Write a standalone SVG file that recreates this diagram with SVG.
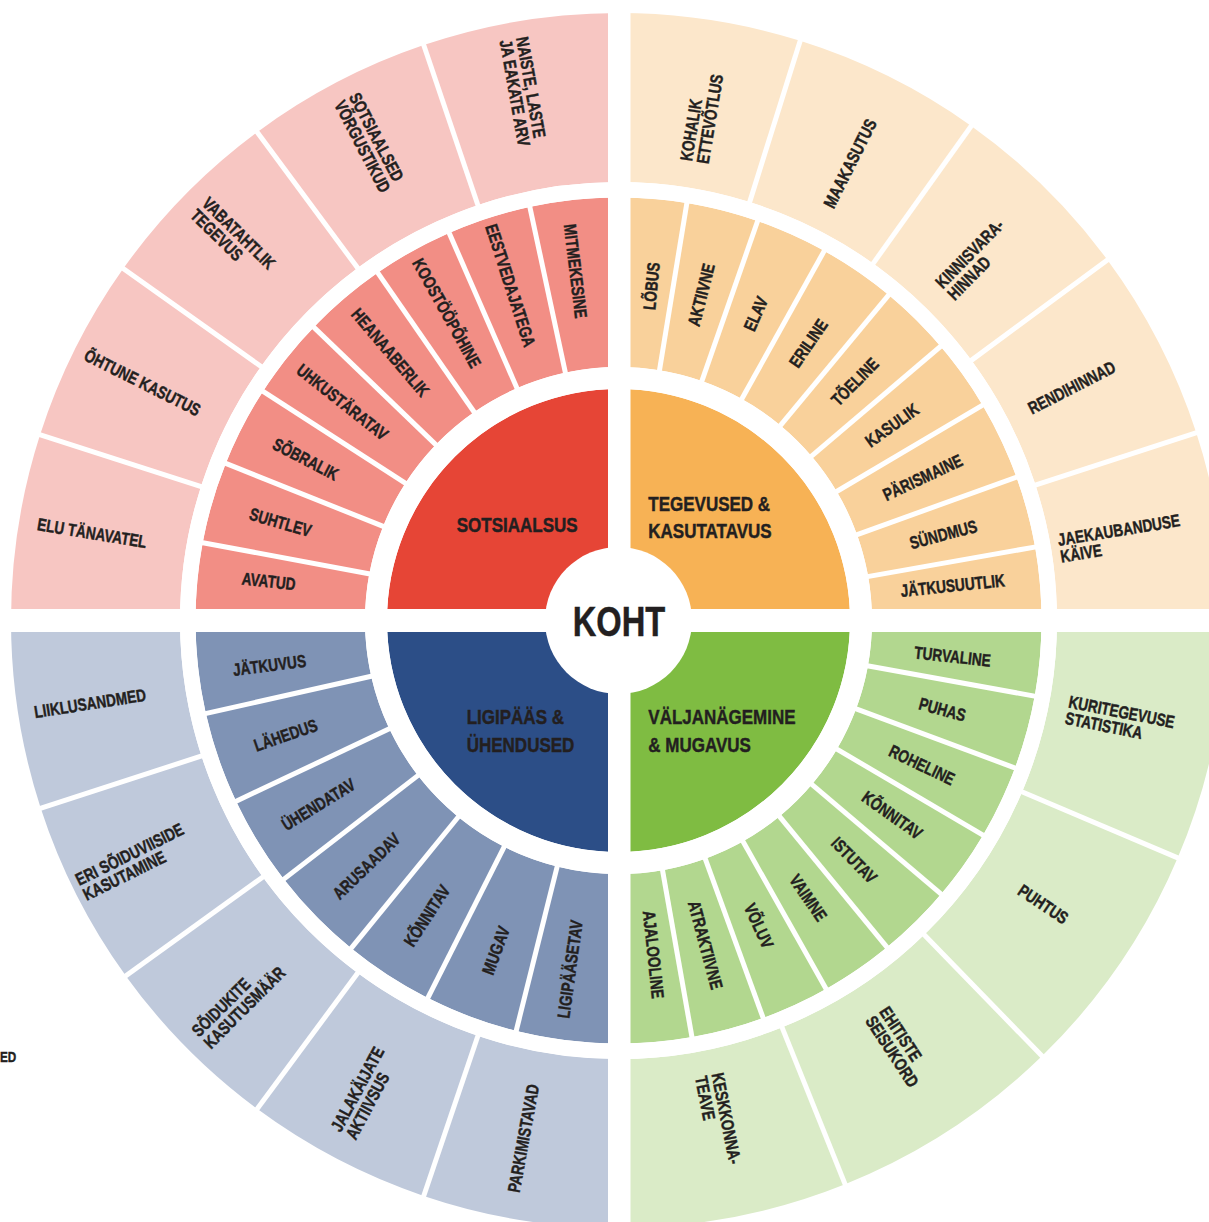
<svg xmlns="http://www.w3.org/2000/svg" width="1209" height="1222" viewBox="0 0 1209 1222">
<style>
.m{fill:none;stroke-width:169.5}
.o{fill:none;stroke-width:169}
.rD{fill:#E64536}.oD{fill:#F7B255}.gD{fill:#7FBC42}.bD{fill:#2C4E87}
.rM{stroke:#F28E85}.oM{stroke:#F9D19B}.gM{stroke:#B2D78F}.bM{stroke:#7F93B5}
.rL{stroke:#F7C6C2}.oL{stroke:#FCE7CB}.gL{stroke:#DAEBC7}.bL{stroke:#BFC9DB}
.t{font-family:"Liberation Sans",Arial,sans-serif;font-weight:700;font-size:17.5px;fill:#231F20;stroke:#231F20;stroke-width:0.45}
.c{text-anchor:middle}
.h{font-size:21px}
.sep line{stroke:#fff;stroke-width:5}
</style>
<rect width="1209" height="1222" fill="#fff"/>

<!-- inner quadrants -->
<g id="sotsiaalsus"><path class="rD" d="M618.5 620.5 L387 620.5 A231.5 231.5 0 0 1 618.5 389 Z"/><text class="t h" transform="translate(456.7 531.5) scale(0.81 1)">SOTSIAALSUS</text></g>
<g id="tegevused"><path class="oD" d="M618.5 620.5 L618.5 389 A231.5 231.5 0 0 1 850 620.5 Z"/><text class="t h" transform="translate(648.3 0) scale(0.81 1)"><tspan x="0" y="511.5">TEGEVUSED &amp;</tspan><tspan x="0" y="538.3">KASUTATAVUS</tspan></text></g>
<g id="valjanagemine"><path class="gD" d="M618.5 620.5 L850 620.5 A231.5 231.5 0 0 1 618.5 852 Z"/><text class="t h" transform="translate(648.3 0) scale(0.81 1)"><tspan x="0" y="724">VÄLJANÄGEMINE</tspan><tspan x="0" y="752">&amp; MUGAVUS</tspan></text></g>
<g id="ligipaas"><path class="bD" d="M618.5 620.5 L618.5 852 A231.5 231.5 0 0 1 387 620.5 Z"/><text class="t h" transform="translate(466.7 0) scale(0.81 1)"><tspan x="0" y="724">LIGIPÄÄS &amp;</tspan><tspan x="0" y="751.7">ÜHENDUSED</tspan></text></g>

<!-- red middle -->
<g id="avatud"><circle class="m rM" cx="618.5" cy="620.5" r="338.25" stroke-dasharray="62.58 3000" transform="rotate(180 618.5 620.5)"/><text class="t c" y="6.2" transform="translate(268.7 581.3) rotate(6.4) scale(0.78 1)">AVATUD</text></g>
<g id="suhtlev"><circle class="m rM" cx="618.5" cy="620.5" r="338.25" stroke-dasharray="66.12 3000" transform="rotate(190.6 618.5 620.5)"/><text class="t c" y="6.2" transform="translate(280.5 522.3) rotate(16.2) scale(0.78 1)">SUHTLEV</text></g>
<g id="sobralik"><circle class="m rM" cx="618.5" cy="620.5" r="338.25" stroke-dasharray="64.94 3000" transform="rotate(201.8 618.5 620.5)"/><text class="t c" y="6.2" transform="translate(305.7 459.1) rotate(27.3) scale(0.78 1)">SÕBRALIK</text></g>
<g id="uhkustaratav"><circle class="m rM" cx="618.5" cy="620.5" r="338.25" stroke-dasharray="65.53 3000" transform="rotate(212.8 618.5 620.5)"/><text class="t c" y="6.2" transform="translate(342.5 402) rotate(38.35) scale(0.78 1)">UHKUSTÄRATAV</text></g>
<g id="heanaaberlik"><circle class="m rM" cx="618.5" cy="620.5" r="338.25" stroke-dasharray="67.30 3000" transform="rotate(223.9 618.5 620.5)"/><text class="t c" y="6.2" transform="translate(390.4 352.4) rotate(49.6) scale(0.78 1)">HEANAABERLIK</text></g>
<g id="koostoopohine"><circle class="m rM" cx="618.5" cy="620.5" r="338.25" stroke-dasharray="65.53 3000" transform="rotate(235.3 618.5 620.5)"/><text class="t c" y="6.2" transform="translate(447 313.1) rotate(60.85) scale(0.78 1)">KOOSTÖÖPÕHINE</text></g>
<g id="eestvedajatega"><circle class="m rM" cx="618.5" cy="620.5" r="338.25" stroke-dasharray="67.89 3000" transform="rotate(246.4 618.5 620.5)"/><text class="t c" y="6.2" transform="translate(510.6 285.4) rotate(72.15) scale(0.78 1)">EESTVEDAJATEGA</text></g>
<g id="mitmekesine"><circle class="m rM" cx="618.5" cy="620.5" r="338.25" stroke-dasharray="71.43 3000" transform="rotate(257.9 618.5 620.5)"/><text class="t c" y="6.2" transform="translate(575.6 271.1) rotate(83) scale(0.78 1)">MITMEKESINE</text></g>

<!-- orange middle -->
<g id="lobus"><circle class="m oM" cx="618.5" cy="620.5" r="338.25" stroke-dasharray="54.90 3000" transform="rotate(270 618.5 620.5)"/><text class="t c" y="6.2" transform="translate(651.3 286.1) rotate(-84.4) scale(0.78 1)">LÕBUS</text></g>
<g id="aktiivne"><circle class="m oM" cx="618.5" cy="620.5" r="338.25" stroke-dasharray="58.44 3000" transform="rotate(279.3 618.5 620.5)"/><text class="t c" y="6.2" transform="translate(701.2 294.8) rotate(-75.75) scale(0.78 1)">AKTIIVNE</text></g>
<g id="elav"><circle class="m oM" cx="618.5" cy="620.5" r="338.25" stroke-dasharray="58.44 3000" transform="rotate(289.2 618.5 620.5)"/><text class="t c" y="6.2" transform="translate(755.7 313.8) rotate(-65.9) scale(0.78 1)">ELAV</text></g>
<g id="eriline"><circle class="m oM" cx="618.5" cy="620.5" r="338.25" stroke-dasharray="62.58 3000" transform="rotate(299.1 618.5 620.5)"/><text class="t c" y="6.2" transform="translate(808.3 343.3) rotate(-55.6) scale(0.78 1)">ERILINE</text></g>
<g id="toeline"><circle class="m oM" cx="618.5" cy="620.5" r="338.25" stroke-dasharray="58.44 3000" transform="rotate(309.7 618.5 620.5)"/><text class="t c" y="6.2" transform="translate(854.8 381.7) rotate(-45.3) scale(0.78 1)">TÕELINE</text></g>
<g id="kasulik"><circle class="m oM" cx="618.5" cy="620.5" r="338.25" stroke-dasharray="57.85 3000" transform="rotate(319.6 618.5 620.5)"/><text class="t c" y="6.2" transform="translate(891.9 425.2) rotate(-35.55) scale(0.78 1)">KASULIK</text></g>
<g id="parismaine"><circle class="m oM" cx="618.5" cy="620.5" r="338.25" stroke-dasharray="63.76 3000" transform="rotate(329.4 618.5 620.5)"/><text class="t c" y="6.2" transform="translate(922.5 477.4) rotate(-25.2) scale(0.78 1)">PÄRISMAINE</text></g>
<g id="sundmus"><circle class="m oM" cx="618.5" cy="620.5" r="338.25" stroke-dasharray="57.85 3000" transform="rotate(340.2 618.5 620.5)"/><text class="t c" y="6.2" transform="translate(943.3 534.4) rotate(-14.85) scale(0.78 1)">SÜNDMUS</text></g>
<g id="jatkusuutlik"><circle class="m oM" cx="618.5" cy="620.5" r="338.25" stroke-dasharray="59.04 3000" transform="rotate(350 618.5 620.5)"/><text class="t c" y="6.2" transform="translate(952.7 585.4) rotate(-6) scale(0.78 1)">JÄTKUSUUTLIK</text></g>

<!-- green middle -->
<g id="turvaline"><circle class="m gM" cx="618.5" cy="620.5" r="338.25" stroke-dasharray="60.81 3000"/><text class="t c" y="6.2" transform="translate(952.6 656.4) rotate(6.13) scale(0.78 1)">TURVALINE</text></g>
<g id="puhas"><circle class="m gM" cx="618.5" cy="620.5" r="338.25" stroke-dasharray="59.63 3000" transform="rotate(10.3 618.5 620.5)"/><text class="t c" y="6.2" transform="translate(942.5 709.4) rotate(15.35) scale(0.78 1)">PUHAS</text></g>
<g id="roheline"><circle class="m gM" cx="618.5" cy="620.5" r="338.25" stroke-dasharray="59.63 3000" transform="rotate(20.4 618.5 620.5)"/><text class="t c" y="6.2" transform="translate(921.9 764.9) rotate(25.45) scale(0.78 1)">ROHELINE</text></g>
<g id="konnitav-g"><circle class="m gM" cx="618.5" cy="620.5" r="338.25" stroke-dasharray="57.85 3000" transform="rotate(30.5 618.5 620.5)"/><text class="t c" y="6.2" transform="translate(892.4 815.1) rotate(35.4) scale(0.78 1)">KÕNNITAV</text></g>
<g id="istutav"><circle class="m gM" cx="618.5" cy="620.5" r="338.25" stroke-dasharray="60.81 3000" transform="rotate(40.3 618.5 620.5)"/><text class="t c" y="6.2" transform="translate(854.2 860) rotate(45.45) scale(0.78 1)">ISTUTAV</text></g>
<g id="vaimne"><circle class="m gM" cx="618.5" cy="620.5" r="338.25" stroke-dasharray="59.04 3000" transform="rotate(50.6 618.5 620.5)"/><text class="t c" y="6.2" transform="translate(808.3 897.7) rotate(55.6) scale(0.78 1)">VAIMNE</text></g>
<g id="voluv"><circle class="m gM" cx="618.5" cy="620.5" r="338.25" stroke-dasharray="55.49 3000" transform="rotate(60.6 618.5 620.5)"/><text class="t c" y="6.2" transform="translate(758.9 925.8) rotate(65.3) scale(0.78 1)">VÕLUV</text></g>
<g id="atraktiivne"><circle class="m gM" cx="618.5" cy="620.5" r="338.25" stroke-dasharray="59.04 3000" transform="rotate(70 618.5 620.5)"/><text class="t c" y="6.2" transform="translate(705.5 945) rotate(75) scale(0.78 1)">ATRAKTIIVNE</text></g>
<g id="ajalooline"><circle class="m gM" cx="618.5" cy="620.5" r="338.25" stroke-dasharray="59.04 3000" transform="rotate(80 618.5 620.5)"/><text class="t c" y="6.2" transform="translate(653.6 954.7) rotate(84) scale(0.78 1)">AJALOOLINE</text></g>

<!-- blue middle -->
<g id="ligipaasetav"><circle class="m bM" cx="618.5" cy="620.5" r="338.25" stroke-dasharray="82.65 3000" transform="rotate(90 618.5 620.5)"/><text class="t c" y="6.2" transform="translate(569.9 969.1) rotate(-82.06) scale(0.78 1)">LIGIPÄÄSETAV</text></g>
<g id="mugav"><circle class="m bM" cx="618.5" cy="620.5" r="338.25" stroke-dasharray="75.56 3000" transform="rotate(104 618.5 620.5)"/><text class="t c" y="6.2" transform="translate(495.8 950.4) rotate(-69.6) scale(0.78 1)">MUGAV</text></g>
<g id="konnitav-b"><circle class="m bM" cx="618.5" cy="620.5" r="338.25" stroke-dasharray="73.20 3000" transform="rotate(116.8 618.5 620.5)"/><text class="t c" y="6.2" transform="translate(426.8 915.7) rotate(-57) scale(0.78 1)">KÕNNITAV</text></g>
<g id="arusaadav"><circle class="m bM" cx="618.5" cy="620.5" r="338.25" stroke-dasharray="77.34 3000" transform="rotate(129.2 618.5 620.5)"/><text class="t c" y="6.2" transform="translate(366.4 866.1) rotate(-44.25) scale(0.78 1)">ARUSAADAV</text></g>
<g id="uhendatav"><circle class="m bM" cx="618.5" cy="620.5" r="338.25" stroke-dasharray="73.20 3000" transform="rotate(142.3 618.5 620.5)"/><text class="t c" y="6.2" transform="translate(318.4 804.4) rotate(-31.5) scale(0.78 1)">ÜHENDATAV</text></g>
<g id="lahedus"><circle class="m bM" cx="618.5" cy="620.5" r="338.25" stroke-dasharray="74.38 3000" transform="rotate(154.7 618.5 620.5)"/><text class="t c" y="6.2" transform="translate(285.7 735.1) rotate(-19) scale(0.78 1)">LÄHEDUS</text></g>
<g id="jatkuvus"><circle class="m bM" cx="618.5" cy="620.5" r="338.25" stroke-dasharray="74.97 3000" transform="rotate(167.3 618.5 620.5)"/><text class="t c" y="6.2" transform="translate(269.4 665.2) rotate(-7.3) scale(0.78 1)">JÄTKUVUS</text></g>

<!-- red outer -->
<g id="elu-tanavatel"><circle class="o rL" cx="618.5" cy="620.5" r="523" stroke-dasharray="162.48 4000" transform="rotate(180 618.5 620.5)"/><text class="t c" y="6.2" transform="translate(92 533) rotate(9.4) scale(0.78 1)">ELU TÄNAVATEL</text></g>
<g id="ohtune-kasutus"><circle class="o rL" cx="618.5" cy="620.5" r="523" stroke-dasharray="160.65 4000" transform="rotate(197.8 618.5 620.5)"/><text class="t c" y="6.2" transform="translate(142.5 382.5) rotate(26.6) scale(0.78 1)">ÕHTUNE KASUTUS</text></g>
<g id="vabatahtlik"><circle class="o rL" cx="618.5" cy="620.5" r="523" stroke-dasharray="165.22 4000" transform="rotate(215.4 618.5 620.5)"/><text class="t" transform="translate(234 240) rotate(44.5) scale(0.78 1)"><tspan x="-62.2" y="-2.2">VABATAHTLIK</tspan><tspan x="-62.2" y="14.6">TEGEVUS</tspan></text></g>
<g id="sotsiaalsed"><circle class="o rL" cx="618.5" cy="620.5" r="523" stroke-dasharray="162.48 4000" transform="rotate(233.5 618.5 620.5)"/><text class="t" transform="translate(370 142.5) rotate(62.4) scale(0.78 1)"><tspan x="-64.7" y="-2.2">SOTSIAALSED</tspan><tspan x="-64.7" y="14.6">VÕRGUSTIKUD</tspan></text></g>
<g id="naiste"><circle class="o rL" cx="618.5" cy="620.5" r="523" stroke-dasharray="170.70 4000" transform="rotate(251.3 618.5 620.5)"/><text class="t" transform="translate(523.5 92.5) rotate(80) scale(0.78 1)"><tspan x="-70.5" y="-2.2">NAISTE, LASTE</tspan><tspan x="-70.5" y="14.6">JA EAKATE ARV</tspan></text></g>

<!-- orange outer -->
<g id="kohalik"><circle class="o oL" cx="618.5" cy="620.5" r="523" stroke-dasharray="158.83 4000" transform="rotate(270 618.5 620.5)"/><text class="t" transform="translate(701.5 117.5) rotate(-80.6) scale(0.78 1)"><tspan x="-57.9" y="-2.2">KOHALIK</tspan><tspan x="-57.9" y="14.6">ETTEVÕTLUS</tspan></text></g>
<g id="maakasutus"><circle class="o oL" cx="618.5" cy="620.5" r="523" stroke-dasharray="165.22 4000" transform="rotate(287.4 618.5 620.5)"/><text class="t c" y="6.2" transform="translate(850 163.3) rotate(-63.3) scale(0.78 1)">MAAKASUTUS</text></g>
<g id="kinnisvara"><circle class="o oL" cx="618.5" cy="620.5" r="523" stroke-dasharray="165.22 4000" transform="rotate(305.5 618.5 620.5)"/><text class="t" transform="translate(975.8 259.2) rotate(-45.4) scale(0.78 1)"><tspan x="-57.4" y="-2.2">KINNISVARA-</tspan><tspan x="-57.4" y="14.6">HINNAD</tspan></text></g>
<g id="rendihinnad"><circle class="o oL" cx="618.5" cy="620.5" r="523" stroke-dasharray="167.96 4000" transform="rotate(323.6 618.5 620.5)"/><text class="t c" y="6.2" transform="translate(1071.7 387.5) rotate(-27.2) scale(0.78 1)">RENDIHINNAD</text></g>
<g id="jaekaubandus"><circle class="o oL" cx="618.5" cy="620.5" r="523" stroke-dasharray="164.31 4000" transform="rotate(342 618.5 620.5)"/><text class="t" transform="translate(1120 538.3) rotate(-9.3) scale(0.78 1)"><tspan x="-79" y="-2.2">JAEKAUBANDUSE</tspan><tspan x="-79" y="14.6">KÄIVE</tspan></text></g>

<!-- green outer -->
<g id="kuritegevus"><circle class="o gL" cx="618.5" cy="620.5" r="523" stroke-dasharray="209.95 4000"/><text class="t" transform="translate(1120 720) rotate(11.2) scale(0.78 1)"><tspan x="-69" y="-2.2">KURITEGEVUSE</tspan><tspan x="-69" y="14.6">STATISTIKA</tspan></text></g>
<g id="puhtus"><circle class="o gL" cx="618.5" cy="620.5" r="523" stroke-dasharray="208.12 4000" transform="rotate(23 618.5 620.5)"/><text class="t c" y="6.2" transform="translate(1043.3 904.2) rotate(33.7) scale(0.78 1)">PUHTUS</text></g>
<g id="ehitiste"><circle class="o gL" cx="618.5" cy="620.5" r="523" stroke-dasharray="203.56 4000" transform="rotate(45.8 618.5 620.5)"/><text class="t" transform="translate(899.2 1046.7) rotate(56.6) scale(0.78 1)"><tspan x="-52" y="-2.2">EHITISTE</tspan><tspan x="-52" y="14.6">SEISUKORD</tspan></text></g>
<g id="keskkonnateave"><circle class="o gL" cx="618.5" cy="620.5" r="523" stroke-dasharray="199.91 4000" transform="rotate(68.1 618.5 620.5)"/><text class="t" transform="translate(718.3 1120) rotate(78.7) scale(0.78 1)"><tspan x="-59.3" y="-2.2">KESKKONNA-</tspan><tspan x="-59.3" y="14.6">TEAVE</tspan></text></g>

<!-- blue outer -->
<g id="parkimistavad"><circle class="o bL" cx="618.5" cy="620.5" r="523" stroke-dasharray="170.70 4000" transform="rotate(90 618.5 620.5)"/><text class="t c" y="6.2" transform="translate(523.3 1138.3) rotate(-79.6) scale(0.78 1)">PARKIMISTAVAD</text></g>
<g id="jalakaijate"><circle class="o bL" cx="618.5" cy="620.5" r="523" stroke-dasharray="162.48 4000" transform="rotate(108.7 618.5 620.5)"/><text class="t" transform="translate(365 1092.5) rotate(-61.8) scale(0.78 1)"><tspan x="-60.3" y="-2.2">JALAKÄIJATE</tspan><tspan x="-60.3" y="14.6">AKTIIVSUS</tspan></text></g>
<g id="soidukite"><circle class="o bL" cx="618.5" cy="620.5" r="523" stroke-dasharray="161.57 4000" transform="rotate(126.5 618.5 620.5)"/><text class="t" transform="translate(238.3 1001.7) rotate(-45) scale(0.78 1)"><tspan x="-68.3" y="-2.2">SÕIDUKITE</tspan><tspan x="-68.3" y="14.6">KASUTUSMÄÄR</tspan></text></g>
<g id="soiduviisid"><circle class="o bL" cx="618.5" cy="620.5" r="523" stroke-dasharray="162.48 4000" transform="rotate(144.2 618.5 620.5)"/><text class="t" transform="translate(133.3 861.7) rotate(-26.4) scale(0.78 1)"><tspan x="-75.9" y="-2.2">ERI SÕIDUVIISIDE</tspan><tspan x="-75.9" y="14.6">KASUTAMINE</tspan></text></g>
<g id="liiklusandmed"><circle class="o bL" cx="618.5" cy="620.5" r="523" stroke-dasharray="164.31 4000" transform="rotate(162 618.5 620.5)"/><text class="t c" y="6.2" transform="translate(90 703.3) rotate(-8.9) scale(0.78 1)">LIIKLUSANDMED</text></g>

<!-- separators -->
<g id="connectors" class="sep" transform="translate(618.5 620.5)">
<g>
<line x1="250" y1="0" x2="427" y2="0" transform="rotate(190.6)"/>
<line x1="250" y1="0" x2="427" y2="0" transform="rotate(201.8)"/>
<line x1="250" y1="0" x2="427" y2="0" transform="rotate(212.8)"/>
<line x1="250" y1="0" x2="427" y2="0" transform="rotate(223.9)"/>
<line x1="250" y1="0" x2="427" y2="0" transform="rotate(235.3)"/>
<line x1="250" y1="0" x2="427" y2="0" transform="rotate(246.4)"/>
<line x1="250" y1="0" x2="427" y2="0" transform="rotate(257.9)"/>
<line x1="250" y1="0" x2="427" y2="0" transform="rotate(279.3)"/>
<line x1="250" y1="0" x2="427" y2="0" transform="rotate(289.2)"/>
<line x1="250" y1="0" x2="427" y2="0" transform="rotate(299.1)"/>
<line x1="250" y1="0" x2="427" y2="0" transform="rotate(309.7)"/>
<line x1="250" y1="0" x2="427" y2="0" transform="rotate(319.6)"/>
<line x1="250" y1="0" x2="427" y2="0" transform="rotate(329.4)"/>
<line x1="250" y1="0" x2="427" y2="0" transform="rotate(340.2)"/>
<line x1="250" y1="0" x2="427" y2="0" transform="rotate(350)"/>
<line x1="250" y1="0" x2="427" y2="0" transform="rotate(10.3)"/>
<line x1="250" y1="0" x2="427" y2="0" transform="rotate(20.4)"/>
<line x1="250" y1="0" x2="427" y2="0" transform="rotate(30.5)"/>
<line x1="250" y1="0" x2="427" y2="0" transform="rotate(40.3)"/>
<line x1="250" y1="0" x2="427" y2="0" transform="rotate(50.6)"/>
<line x1="250" y1="0" x2="427" y2="0" transform="rotate(60.6)"/>
<line x1="250" y1="0" x2="427" y2="0" transform="rotate(70)"/>
<line x1="250" y1="0" x2="427" y2="0" transform="rotate(80)"/>
<line x1="250" y1="0" x2="427" y2="0" transform="rotate(104)"/>
<line x1="250" y1="0" x2="427" y2="0" transform="rotate(116.8)"/>
<line x1="250" y1="0" x2="427" y2="0" transform="rotate(129.2)"/>
<line x1="250" y1="0" x2="427" y2="0" transform="rotate(142.3)"/>
<line x1="250" y1="0" x2="427" y2="0" transform="rotate(154.7)"/>
<line x1="250" y1="0" x2="427" y2="0" transform="rotate(167.3)"/>
</g>
<g>
<line x1="435" y1="0" x2="612" y2="0" transform="rotate(197.8)"/>
<line x1="435" y1="0" x2="612" y2="0" transform="rotate(215.4)"/>
<line x1="435" y1="0" x2="612" y2="0" transform="rotate(233.5)"/>
<line x1="435" y1="0" x2="612" y2="0" transform="rotate(251.3)"/>
<line x1="435" y1="0" x2="612" y2="0" transform="rotate(287.4)"/>
<line x1="435" y1="0" x2="612" y2="0" transform="rotate(305.5)"/>
<line x1="435" y1="0" x2="612" y2="0" transform="rotate(323.6)"/>
<line x1="435" y1="0" x2="612" y2="0" transform="rotate(342)"/>
<line x1="435" y1="0" x2="612" y2="0" transform="rotate(23)"/>
<line x1="435" y1="0" x2="612" y2="0" transform="rotate(45.8)"/>
<line x1="435" y1="0" x2="612" y2="0" transform="rotate(68.1)"/>
<line x1="435" y1="0" x2="612" y2="0" transform="rotate(108.7)"/>
<line x1="435" y1="0" x2="612" y2="0" transform="rotate(126.5)"/>
<line x1="435" y1="0" x2="612" y2="0" transform="rotate(144.2)"/>
<line x1="435" y1="0" x2="612" y2="0" transform="rotate(162)"/>
</g>
</g>

<!-- ring gaps and cross gaps -->
<g id="gaps" fill="none" stroke="#fff">
<circle cx="618.5" cy="620.5" r="242.5" stroke-width="22"/>
<circle cx="618.5" cy="620.5" r="430.75" stroke-width="15.5"/>
</g>
<g id="cross" fill="#fff">
<rect x="608" y="0" width="22.5" height="1222"/>
<rect x="0" y="609" width="1209" height="23"/>
</g>

<g id="koht">
<circle cx="618.5" cy="620.5" r="73.5" fill="#fff"/>
<text class="t c" transform="translate(619 636) scale(0.76 1)" style="font-size:43px">KOHT</text>
</g>

<text class="t" transform="translate(0 1061.5) scale(0.78 1)" style="font-size:15px">ED</text>
</svg>
